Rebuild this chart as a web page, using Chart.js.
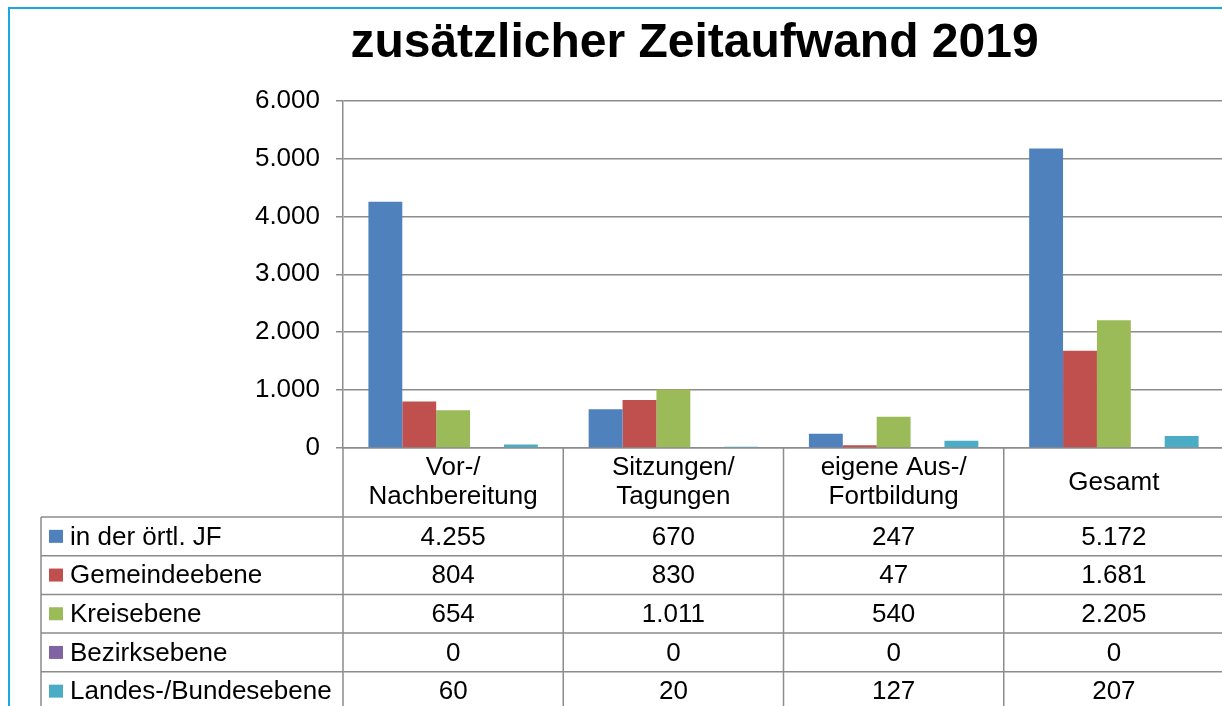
<!DOCTYPE html>
<html>
<head>
<meta charset="utf-8">
<script src="https://cdn.jsdelivr.net/npm/chart.js@4/dist/chart.umd.min.js"></script>
<style>
  html, body { margin: 0; padding: 0; background: #fff; overflow: hidden; width: 1222px; height: 706px; }
  #frame { position: absolute; left: 8px; top: 7px; width: 1369px; height: 740px; border: 2px solid #17a8e2; }
  #chart { display: block; }
</style>
</head>
<body>
<div id="frame"><canvas id="chart" width="1369" height="740"></canvas></div>
<script>
// categories + values per series
const categories = [['Vor-/', 'Nachbereitung'], ['Sitzungen/', 'Tagungen'], ['eigene Aus-/', 'Fortbildung'], ['Gesamt']];
const seriesNames = ['in der örtl. JF', 'Gemeindeebene', 'Kreisebene', 'Bezirksebene', 'Landes-/Bundesebene'];
const oertlJF = [4255, 670, 247, 5172];
const gemeinde = [804, 830, 47, 1681];
const kreis = [654, 1011, 540, 2205];
const bezirk = [0, 0, 0, 0];
const landesBund = [60, 20, 127, 207];
const colors = ['#4f81bd', '#c0504d', '#9bbb59', '#8064a2', '#4bacc6'];
const yTicks = [0, 1000, 2000, 3000, 4000, 5000, 6000];

const FONT = '"Liberation Sans", Arial, sans-serif';
const LINE = '#8c8c8c';

function fmt(v) {
  return String(v).replace(/\B(?=(\d{3})+(?!\d))/g, '.');
}

const values = [oertlJF, gemeinde, kreis, bezirk, landesBund];

// draws the category labels and the data table under the plot
const tablePlugin = {
  id: 'dataTable',
  afterDraw(chart) {
    const { ctx, chartArea } = chart;
    const x = chart.scales.x;
    const n = categories.length;
    const colW = (chartArea.right - chartArea.left) / n;
    const headTop = chartArea.bottom;
    const headH = 69;
    const rowH = 38.7;
    const tableLeft = 31;
    const rowsTop = headTop + headH;
    const tableBottom = rowsTop + rowH * seriesNames.length;
    const right = chart.width;

    ctx.save();
    ctx.strokeStyle = LINE;
    ctx.lineWidth = 1.5;
    ctx.beginPath();
    // verticals
    for (let i = 0; i <= n; i++) {
      const px = chartArea.left + i * colW;
      ctx.moveTo(px, headTop);
      ctx.lineTo(px, tableBottom);
    }
    ctx.moveTo(tableLeft, rowsTop);
    ctx.lineTo(tableLeft, tableBottom);
    // horizontals
    for (let r = 0; r <= seriesNames.length; r++) {
      const py = rowsTop + r * rowH;
      ctx.moveTo(tableLeft, py);
      ctx.lineTo(right, py);
    }
    ctx.stroke();

    ctx.fillStyle = '#000';
    ctx.font = '26px ' + FONT;
    ctx.textBaseline = 'middle';
    ctx.textAlign = 'center';

    // category labels in header row
    categories.forEach((lab, i) => {
      const cx = x.getPixelForValue(i);
      const cy = headTop + headH / 2;
      const lh = 29;
      lab.forEach((line, k) => {
        ctx.fillText(line, cx, cy + (k - (lab.length - 1) / 2) * lh);
      });
    });

    // rows
    seriesNames.forEach((name, r) => {
      const cy = rowsTop + r * rowH + rowH / 2;
      ctx.fillStyle = colors[r];
      ctx.fillRect(tableLeft + 8, cy - 6.5, 14, 13);
      ctx.fillStyle = '#000';
      ctx.textAlign = 'left';
      ctx.fillText(name, tableLeft + 29, cy + 1);
      ctx.textAlign = 'center';
      values[r].forEach((v, i) => {
        ctx.fillText(fmt(v), x.getPixelForValue(i), cy + 1);
      });
    });
    ctx.restore();
  }
};

new Chart(document.getElementById('chart'), {
  type: 'bar',
  data: {
    labels: categories.map(c => c.join(' ')),
    datasets: seriesNames.map((name, i) => ({
      label: name,
      data: values[i],
      backgroundColor: colors[i],
      categoryPercentage: 5 / 6.5,
      barPercentage: 1
    }))
  },
  options: {
    responsive: false,
    animation: false,
    layout: { padding: { left: 0, right: 0, top: 0, bottom: 293 } },
    plugins: {
      legend: { display: false },
      tooltip: { enabled: false },
      title: {
        display: true,
        text: 'zusätzlicher Zeitaufwand 2019',
        color: '#000',
        font: { family: FONT, size: 48, weight: 'bold', lineHeight: 1.2 },
        padding: { top: 6, bottom: 28 }
      }
    },
    scales: {
      x: {
        ticks: { display: false },
        grid: { display: false },
        border: { display: true, color: LINE, width: 1.5 }
      },
      y: {
        min: 0,
        max: 6000,
        afterBuildTicks(scale) {
          scale.ticks = yTicks.map(v => ({ value: v }));
        },
        afterFit(scale) { scale.width = 333; },
        ticks: {
          color: '#000',
          padding: 16,
          font: { family: FONT, size: 26 },
          callback: v => fmt(v)
        },
        grid: { color: LINE, lineWidth: 1.5, tickLength: 7 },
        border: { display: true, color: LINE, width: 1.5 }
      },
      // empty right-hand spacer: the plot ends at the window edge, the chart goes on beyond it
      spacer: {
        type: 'linear',
        position: 'right',
        min: 0,
        max: 6000,
        afterFit(scale) { scale.width = 155; },
        ticks: { display: false },
        grid: { display: false },
        border: { display: false }
      }
    }
  },
  plugins: [tablePlugin]
});
</script>
</body>
</html>
